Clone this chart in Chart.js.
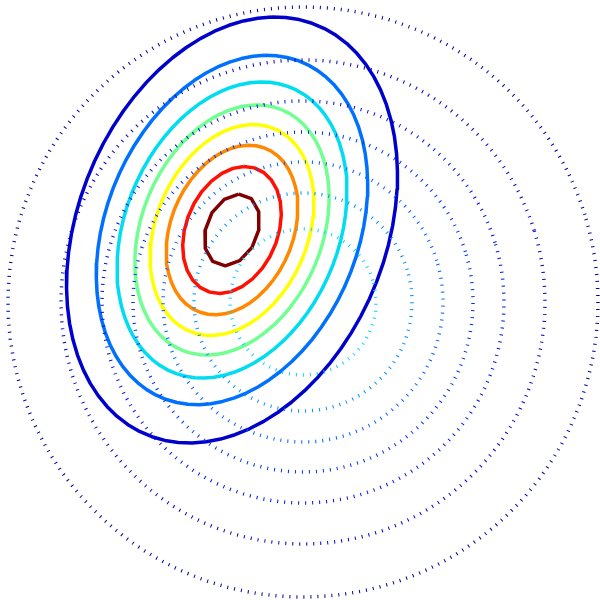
<!DOCTYPE html>
<html>
<head>
<meta charset="utf-8">
<script src="https://cdn.jsdelivr.net/npm/chart.js@4/dist/chart.umd.min.js"></script>
<style>
  html, body { margin: 0; padding: 0; background: #ffffff; }
  #wrap { width: 600px; height: 600px; }
</style>
</head>
<body>
<div id="wrap"><canvas id="contourChart"></canvas></div>
<script>
// Contour levels of two surfaces: a tilted peak (solid) and a round one (dotted)

// Solid contours: tilted ellipses, outer to inner
const peakCenter = [-0.68, 0.70];
const peakSemiMajor = 2.218;
const peakSemiMinor = 1.535;
const peakAngleDeg = 67.3;
const peakLevelScale = [1, 0.82, 0.695, 0.587, 0.495, 0.398, 0.298, 0.168];
const peakLevelColors = ['#0000cd', '#0070ff', '#00dcf0', '#70ff90', '#ffff00', '#ff8800', '#ff1000', '#800000'];
const peakLevelSegments = [72, 72, 72, 64, 56, 48, 28, 12];

// Dotted contours: circles, inner to outer
const ringCenter = [0.03, -0.02];
const ringRadii = [0.73, 1.09, 1.40, 1.70, 2.01, 2.42, 2.95];
const ringColors = ['#10d0ff', '#0090ff', '#0060ff', '#0030f0', '#0010dd', '#0000c0', '#00009a'];

const axisRange = [-3, 3];

function ellipsePoints(cx, cy, a, b, angleDeg, segments) {
    const phi = angleDeg * Math.PI / 180;
    const pts = [];
    for (let i = 0; i <= segments; i++) {
        const t = (i / segments) * 2 * Math.PI + 0.3;
        const u = a * Math.cos(t);
        const v = b * Math.sin(t);
        pts.push({
            x: cx + u * Math.cos(phi) - v * Math.sin(phi),
            y: cy + u * Math.sin(phi) + v * Math.cos(phi)
        });
    }
    return pts;
}

const datasets = [];

// dotted rings go first so they sit on top
ringRadii.forEach((r, i) => {
    datasets.push({
        data: ellipsePoints(ringCenter[0], ringCenter[1], r, r, 0, 180),
        borderColor: ringColors[i],
        borderWidth: 3.5,
        borderDash: [1, 6],
        borderCapStyle: 'butt',
        pointRadius: 0,
        showLine: true,
        fill: false,
        tension: 0
    });
});

peakLevelScale.forEach((s, i) => {
    datasets.push({
        data: ellipsePoints(peakCenter[0], peakCenter[1], peakSemiMajor * s, peakSemiMinor * s, peakAngleDeg, peakLevelSegments[i]),
        borderColor: peakLevelColors[i],
        borderWidth: 3.5,
        borderJoinStyle: 'round',
        pointRadius: 0,
        showLine: true,
        fill: false,
        tension: 0
    });
});

new Chart(document.getElementById('contourChart'), {
    type: 'scatter',
    data: { datasets: datasets },
    options: {
        responsive: true,
        maintainAspectRatio: false,
        animation: false,
        events: [],
        layout: { padding: 0 },
        clip: false,
        plugins: {
            legend: { display: false },
            tooltip: { enabled: false }
        },
        scales: {
            x: { type: 'linear', min: axisRange[0], max: axisRange[1], display: false },
            y: { type: 'linear', min: axisRange[0], max: axisRange[1], display: false }
        }
    }
});
</script>
</body>
</html>
